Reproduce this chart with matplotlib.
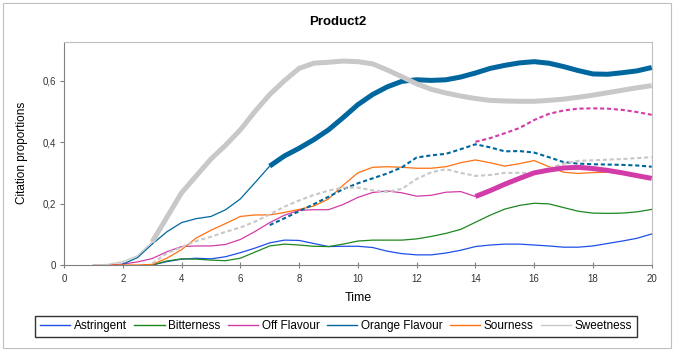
import numpy as np
import matplotlib.pyplot as plt
from matplotlib.ticker import FuncFormatter
from matplotlib.patches import Rectangle
from matplotlib.lines import Line2D

plt.rcParams['font.family'] = ['Liberation Sans', 'DejaVu Sans']

nan = np.nan
TIME = np.arange(0, 20.5, 0.5)

# citation proportions, one value every 0.5 s
astringent = [nan] * 6 + [
    0, 0.011, 0.019, 0.022, 0.02, 0.027, 0.04, 0.055, 0.072, 0.081,
    0.08, 0.07, 0.06, 0.061, 0.061, 0.057, 0.045, 0.037, 0.033, 0.033,
    0.039, 0.048, 0.06, 0.065, 0.068, 0.068, 0.065, 0.062, 0.058, 0.058,
    0.062, 0.07, 0.078, 0.087, 0.101]
bitterness = [nan] * 6 + [
    0, 0.013, 0.02, 0.019, 0.016, 0.014, 0.022, 0.042, 0.062, 0.068,
    0.065, 0.061, 0.06, 0.068, 0.078, 0.081, 0.081, 0.081, 0.085, 0.093,
    0.103, 0.116, 0.139, 0.162, 0.182, 0.194, 0.201, 0.199, 0.187, 0.175,
    0.169, 0.168, 0.169, 0.173, 0.181]
off_flavour = [nan] * 3 + [
    0, 0.003, 0.01, 0.021, 0.043, 0.06, 0.062, 0.062, 0.067, 0.083,
    0.109, 0.138, 0.162, 0.178, 0.18, 0.18, 0.197, 0.22, 0.236, 0.241,
    0.235, 0.224, 0.227, 0.237, 0.239, 0.223, 0.242, 0.263, 0.282, 0.3,
    0.309, 0.316, 0.318, 0.314, 0.308, 0.3, 0.291, 0.282]
orange_flavour = [nan] * 4 + [
    0.003, 0.024, 0.068, 0.108, 0.138, 0.151, 0.158, 0.18, 0.215, 0.268,
    0.322, 0.355, 0.38, 0.408, 0.44, 0.48, 0.522, 0.555, 0.58, 0.598,
    0.603, 0.601, 0.603, 0.612, 0.625, 0.64, 0.65, 0.658, 0.662, 0.657,
    0.646, 0.633, 0.622, 0.621, 0.626, 0.632, 0.643]
sourness = [nan] * 2 + [
    0, 0, 0, 0, 0.002, 0.022, 0.05, 0.088, 0.113, 0.135,
    0.158, 0.163, 0.163, 0.171, 0.181, 0.192, 0.215, 0.26, 0.3, 0.318,
    0.32, 0.318, 0.315, 0.315, 0.32, 0.333, 0.342, 0.333, 0.322, 0.33,
    0.34, 0.32, 0.302, 0.298, 0.301, 0.302, 0.298, 0.292, 0.285]
sweetness = [nan] * 2 + [
    0, 0.002, 0.011, 0.03, 0.075, 0.155, 0.235, 0.29, 0.345, 0.39,
    0.44, 0.5, 0.555, 0.6, 0.64, 0.657, 0.66, 0.664, 0.662, 0.655,
    0.635, 0.613, 0.59, 0.572, 0.56, 0.55, 0.542, 0.536, 0.534, 0.533,
    0.533, 0.536, 0.54, 0.546, 0.553, 0.561, 0.569, 0.577, 0.584]

# mean of the other products, drawn dashed where the difference is significant
off_flavour_ref = [nan] * 28 + [
    0.401, 0.413, 0.429, 0.446, 0.472, 0.492, 0.503, 0.509, 0.51, 0.509,
    0.505, 0.498, 0.489]
orange_flavour_ref = [nan] * 14 + [
    0.13, 0.152, 0.175, 0.198, 0.222, 0.247, 0.266, 0.282, 0.298, 0.318,
    0.35, 0.357, 0.362, 0.377, 0.393, 0.383, 0.37, 0.371, 0.366, 0.351,
    0.335, 0.33, 0.328, 0.327, 0.326, 0.324, 0.32]
sweetness_ref = [nan] * 6 + [
    0.005, 0.038, 0.058, 0.078, 0.092, 0.108, 0.122, 0.141, 0.165, 0.19,
    0.21, 0.228, 0.242, 0.252, 0.252, 0.243, 0.238, 0.248, 0.28, 0.302,
    0.312, 0.3, 0.29, 0.293, 0.3, 0.3, 0.3, 0.315, 0.33, 0.339,
    0.341, 0.343, 0.345, 0.348, 0.351]

ATTRIBUTES = ['Astringent', 'Bitterness', 'Off Flavour', 'Orange Flavour', 'Sourness', 'Sweetness']
VALUES = [astringent, bitterness, off_flavour, orange_flavour, sourness, sweetness]
REFS = [None, None, off_flavour_ref, orange_flavour_ref, None, sweetness_ref]
SIG_START = [None, None, 14.0, 7.0, None, 3.0]
COLORS = ['#1F4FE8', '#1E871E', '#D23CA8', '#00679E', '#FF7010', '#C8C8C8']

fig = plt.figure(figsize=(6.75, 3.5), dpi=100)
fig.patches.append(Rectangle((0.004, 0.006), 0.99, 0.986, transform=fig.transFigure,
                             fill=False, edgecolor='#BFBFBF', linewidth=0.8))
ax = fig.add_axes([64 / 675, 85 / 350, 587.7 / 675, 223.3 / 350])

for vals, ref, sig, col in zip(VALUES, REFS, SIG_START, COLORS):
    v = np.array(vals, dtype=float)
    if sig is None:
        ax.plot(TIME, v, color=col, lw=0.9, zorder=2)
    else:
        thin = np.where(TIME <= sig, v, nan)
        thick = np.where(TIME >= sig, v, nan)
        ax.plot(TIME, thin, color=col, lw=0.9, zorder=2)
        ax.plot(TIME, thick, color=col, lw=3.6, zorder=4, solid_capstyle='butt')
        ax.plot(TIME, np.array(ref, dtype=float), color=col, lw=1.5,
                dashes=(2.0, 1.3), zorder=3)

ax.set_xlim(0, 20)
ax.set_ylim(0, 0.727)
ax.set_xticks(range(0, 21, 2))
ax.set_yticks([0, 0.2, 0.4, 0.6])
ax.yaxis.set_major_formatter(FuncFormatter(lambda v, p: f'{v:g}'.replace('.', ',')))
ax.tick_params(axis='x', direction='inout', length=5, width=0.8, color='#808080',
               labelsize=7, labelcolor='#333333', pad=4)
ax.tick_params(axis='y', direction='out', length=3, width=0.8, color='#808080',
               labelsize=7, labelcolor='#333333', pad=3)
for side in ['left', 'bottom']:
    ax.spines[side].set_color('#808080')
for side in ['top', 'right']:
    ax.spines[side].set_color('#BFBFBF')

ax.set_xlabel('Time', fontsize=9, labelpad=6)
ax.set_ylabel('Citation proportions', fontsize=8.5, labelpad=10)
fig.text(0.5, 1 - 22 / 350, 'Product2', ha='center', va='center',
         fontsize=9.5, fontweight='bold')

handles = [Line2D([], [], color=c, lw=1.0) for c in COLORS]
leg = fig.legend(handles, ATTRIBUTES, loc='lower left', ncol=6, mode='expand',
                 bbox_to_anchor=(35 / 675, 13 / 350, 602 / 675, 21 / 350),
                 fontsize=8.5, frameon=True, fancybox=False, edgecolor='black',
                 handlelength=2.6, handletextpad=0.3, borderaxespad=0, columnspacing=1.0)
leg.get_frame().set_linewidth(1.0)

fig.savefig('out.png', dpi=100)
